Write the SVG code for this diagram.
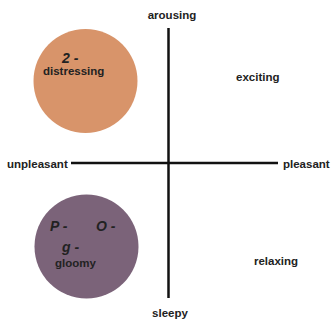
<svg xmlns="http://www.w3.org/2000/svg" width="331" height="325" viewBox="0 0 331 325">
<style>
.lbl{font-family:"Liberation Sans",Arial,sans-serif;font-weight:bold;font-size:11.5px;fill:#222}
.big{font-family:"Liberation Sans",Arial,sans-serif;font-weight:bold;font-style:italic;font-size:14px;fill:#222}
.ax{stroke:#111;stroke-width:2.5}
</style>
<rect width="331" height="325" fill="#fff"/>
<g id="axes">
<line class="ax" x1="168.5" y1="28" x2="168.5" y2="298"/>
<line class="ax" x1="71" y1="163" x2="278" y2="163"/>
</g>
<g id="distressing">
<circle cx="85.5" cy="81" r="52" fill="#D8946A"/>
<text class="big" x="62" y="63">2 -</text>
<text class="lbl" x="43" y="75">distressing</text>
</g>
<g id="gloomy">
<circle cx="86.5" cy="246.5" r="52" fill="#7B6379"/>
<text class="big" x="50" y="231">P -</text>
<text class="big" x="96" y="231">O -</text>
<text class="big" x="62" y="252">g -</text>
<text class="lbl" x="55" y="267">gloomy</text>
</g>
<g id="labels">
<text class="lbl" x="172" y="19" text-anchor="middle">arousing</text>
<text class="lbl" x="170" y="317" text-anchor="middle">sleepy</text>
<text class="lbl" x="7" y="168">unpleasant</text>
<text class="lbl" x="283" y="168">pleasant</text>
<text class="lbl" x="236" y="81">exciting</text>
<text class="lbl" x="254" y="265">relaxing</text>
</g>
</svg>
